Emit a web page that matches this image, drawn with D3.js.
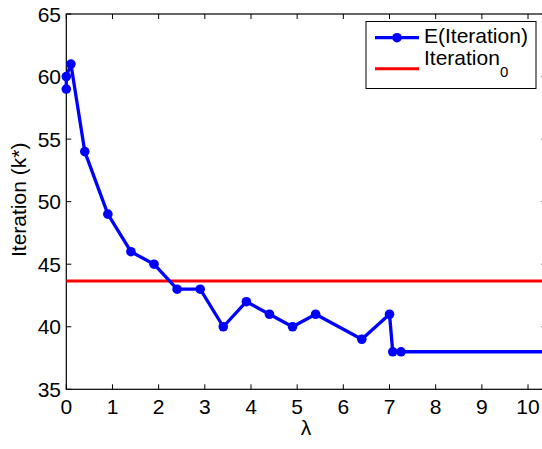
<!DOCTYPE html>
<html><head><meta charset="utf-8">
<script src="https://cdn.jsdelivr.net/npm/d3@7"></script>
<style>body{margin:0;background:#fff}svg{display:block}text{font-family:"Liberation Sans",Arial,Helvetica,sans-serif}</style>
</head><body>
<svg id="c" width="542" height="449"></svg>
<script>
const lambdaVals = [0, 0, 0.1, 0.4, 0.9, 1.4, 1.9, 2.4, 2.9, 3.4, 3.9, 4.4, 4.9, 5.4, 6.4, 7.0, 7.07, 7.25, 10.4];
const iterVals   = [59, 60, 61, 54, 49, 46, 45, 43, 43, 40, 42, 41, 40, 41, 39, 41, 38, 38, 38];
const markerCount = 18; // last point is the line end without marker
const iteration0 = 43.65;
const xTicks = [0,1,2,3,4,5,6,7,8,9,10];
const yTicks = [35,40,45,50,55,60,65];

const svg = d3.select("#c");
const L = 66.3, R = 546.5, T = 14, B = 389.3;
const x = d3.scaleLinear().domain([0, 10.4]).range([L, R]);
const y = d3.scaleLinear().domain([35, 65]).range([B, T]);

const fs = 21;
const g = svg.append("g");

// axes box
g.append("rect").attr("x", L).attr("y", T).attr("width", R - L).attr("height", B - T)
  .attr("fill", "none").attr("stroke", "#000").attr("stroke-width", 1.2);

// ticks (inward, on all sides)
const tl = 5;
xTicks.forEach(t => {
  g.append("line").attr("x1", x(t)).attr("x2", x(t)).attr("y1", B).attr("y2", B - tl).attr("stroke", "#000").attr("stroke-width", 1);
  g.append("line").attr("x1", x(t)).attr("x2", x(t)).attr("y1", T).attr("y2", T + tl).attr("stroke", "#000").attr("stroke-width", 1);
  g.append("text").attr("x", x(t)).attr("y", 414.3).attr("text-anchor", "middle").attr("font-size", fs).text(t);
});
yTicks.forEach(t => {
  g.append("line").attr("x1", L).attr("x2", L + tl).attr("y1", y(t)).attr("y2", y(t)).attr("stroke", "#000").attr("stroke-width", 1);
  g.append("line").attr("x1", R).attr("x2", R - tl).attr("y1", y(t)).attr("y2", y(t)).attr("stroke", "#000").attr("stroke-width", 1);
  g.append("text").attr("x", 61).attr("y", y(t) + 7.5).attr("text-anchor", "end").attr("font-size", fs).text(t);
});

// red reference line
g.append("line").attr("x1", L).attr("x2", R).attr("y1", y(iteration0)).attr("y2", y(iteration0))
  .attr("stroke", "#ff0000").attr("stroke-width", 3);

// blue series
const pts = lambdaVals.map((v, i) => [v, iterVals[i]]);
g.append("path").datum(pts)
  .attr("d", d3.line().x(d => x(d[0])).y(d => y(d[1])))
  .attr("fill", "none").attr("stroke", "#0000ff").attr("stroke-width", 3.3).attr("stroke-linejoin", "round");
g.selectAll("circle.m").data(pts.slice(0, markerCount)).enter().append("circle")
  .attr("cx", d => x(d[0])).attr("cy", d => y(d[1])).attr("r", 4.8).attr("fill", "#0000ff");

// axis labels
g.append("text").attr("x", 306).attr("y", 435).attr("text-anchor", "middle").attr("font-size", fs).text("λ");
g.append("text").attr("transform", `translate(25.5,257) rotate(-90)`).attr("text-anchor", "start")
  .attr("font-size", fs).text("Iteration (k*)");

// legend
const lg = g.append("g");
lg.append("rect").attr("x", 366).attr("y", 21.5).attr("width", 170).attr("height", 67)
  .attr("fill", "#fff").attr("stroke", "#000").attr("stroke-width", 1);
lg.append("line").attr("x1", 375).attr("x2", 419).attr("y1", 37.7).attr("y2", 37.7).attr("stroke", "#0000ff").attr("stroke-width", 3.3);
lg.append("circle").attr("cx", 397).attr("cy", 37.7).attr("r", 4.8).attr("fill", "#0000ff");
lg.append("text").attr("x", 424).attr("y", 43.3).attr("font-size", fs).text("E(Iteration)");
lg.append("line").attr("x1", 375).attr("x2", 419).attr("y1", 68.7).attr("y2", 68.7).attr("stroke", "#ff0000").attr("stroke-width", 3);
const t2 = lg.append("text").attr("x", 424).attr("y", 65).attr("font-size", fs);
t2.append("tspan").text("Iteration");
t2.append("tspan").attr("dy", 12.3).attr("font-size", 15).text("0");
</script>
</body></html>
